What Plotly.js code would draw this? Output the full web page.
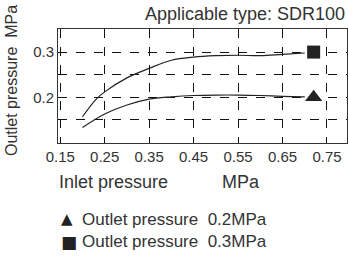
<!DOCTYPE html>
<html><head><meta charset="utf-8">
<script src="https://cdn.plot.ly/plotly-3.0.1.min.js"></script>
<style>html,body{margin:0;padding:0;background:#fff}#c{width:349px;height:257px}</style>
</head><body><div id="c"></div>
<script>
// Data
const inletHigh = [0.20, 0.23, 0.25, 0.30, 0.35, 0.40, 0.45, 0.50, 0.55, 0.60, 0.65, 0.70];
const outletHigh = [0.157, 0.195, 0.212, 0.243, 0.264, 0.282, 0.289, 0.292, 0.293, 0.292, 0.295, 0.298];
const inletLow = [0.20, 0.25, 0.30, 0.35, 0.40, 0.45, 0.50, 0.55, 0.60, 0.65, 0.70];
const outletLow = [0.133, 0.163, 0.183, 0.196, 0.201, 0.204, 0.205, 0.205, 0.204, 0.202, 0.201];
const markerX = [0.72];
const markerHighY = [0.30];
const markerLowY = [0.20];
const xTicks = [0.15, 0.25, 0.35, 0.45, 0.55, 0.65, 0.75];
const xTickText = ['0.15', '0.25', '0.35', '0.45', '0.55', '0.65', '0.75'];
const yTicks = [0.15, 0.20, 0.25, 0.30];
const yTickText = ['', '0.2', '', '0.3'];
const legendSymbols = ['\u25B2', '\u25A0'];
const legendLabels = ['Outlet pressure\u00a0\u00a00.2MPa', 'Outlet pressure\u00a0\u00a00.3MPa'];

const txt = '#333';
const fam = 'Liberation Sans, Arial, sans-serif';
const tickFont = {family: fam, size: 15, color: txt};

const traces = [
  {x: inletHigh, y: outletHigh, mode: 'lines', line: {color: '#222', width: 1.2, shape: 'spline'}, hoverinfo: 'skip'},
  {x: inletLow, y: outletLow, mode: 'lines', line: {color: '#222', width: 1.2, shape: 'spline'}, hoverinfo: 'skip'},
  {x: markerX, y: markerHighY, mode: 'markers', marker: {symbol: 'square', size: 13, color: '#222'}},
  {x: markerX, y: markerLowY, mode: 'markers', marker: {symbol: 'triangle-up', size: 15, color: '#222'}}
];

const legendY = [-0.667, -0.868];
const legendAnn = [];
legendSymbols.forEach((s, i) => {
  legendAnn.push({text: s, xref: 'paper', yref: 'paper', x: 0.005, y: legendY[i], xanchor: 'left', yanchor: 'middle', showarrow: false, font: {family: 'DejaVu Sans, sans-serif', size: i === 0 ? 15 : 17, color: '#222'}});
  legendAnn.push({text: legendLabels[i], xref: 'paper', yref: 'paper', x: 0.077, y: legendY[i], xanchor: 'left', yanchor: 'middle', showarrow: false, font: {family: fam, size: 17, color: txt}});
});

const layout = {
  width: 349, height: 257,
  margin: {l: 58, r: 2, t: 29, b: 114},
  showlegend: false,
  paper_bgcolor: '#fff', plot_bgcolor: '#fff',
  font: tickFont,
  xaxis: {
    range: [0.145, 0.795], tickvals: xTicks, ticktext: xTickText,
    showgrid: true, gridcolor: '#111', griddash: 'dash', gridwidth: 1,
    zeroline: false, showline: true, mirror: true, linecolor: '#333', linewidth: 1,
    ticks: '', tickfont: tickFont
  },
  yaxis: {
    range: [0.099, 0.351], tickvals: yTicks, ticktext: yTickText,
    showgrid: true, gridcolor: '#111', griddash: 'dash', gridwidth: 1,
    zeroline: false, showline: true, mirror: true, linecolor: '#333', linewidth: 1,
    ticks: '', tickfont: tickFont
  },
  annotations: [
    {text: 'Applicable type: SDR100', xref: 'paper', yref: 'paper', x: 1.0, y: 1.13, xanchor: 'right', yanchor: 'middle', showarrow: false, font: {family: fam, size: 18, color: txt}},
    {text: 'Outlet pressure\u00a0\u00a0MPa', xref: 'paper', yref: 'paper', x: -0.16, y: 0.55, textangle: -90, xanchor: 'center', yanchor: 'middle', showarrow: false, font: {family: fam, size: 16, color: txt}},
    {text: 'Inlet pressure', xref: 'paper', yref: 'paper', x: -0.005, y: -0.345, xanchor: 'left', yanchor: 'middle', showarrow: false, font: {family: fam, size: 18, color: txt}},
    {text: 'MPa', xref: 'paper', yref: 'paper', x: 0.56, y: -0.345, xanchor: 'left', yanchor: 'middle', showarrow: false, font: {family: fam, size: 18, color: txt}}
  ].concat(legendAnn)
};
Plotly.newPlot('c', traces, layout, {displayModeBar: false, staticPlot: true});
</script></body></html>
